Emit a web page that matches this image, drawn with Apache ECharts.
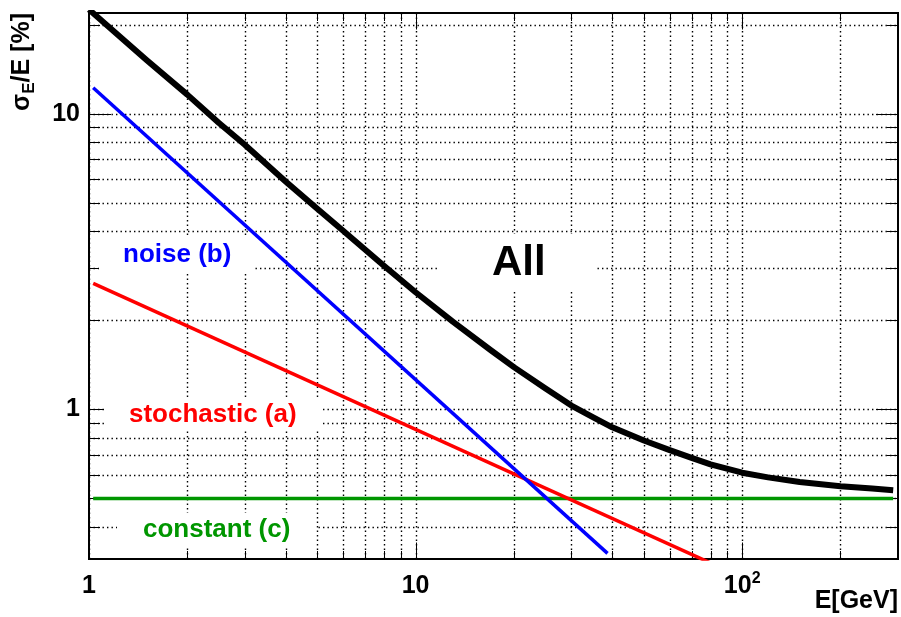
<!DOCTYPE html>
<html><head><meta charset="utf-8">
<script src="https://cdn.jsdelivr.net/npm/echarts@6/dist/echarts.min.js"></script>
<style>html,body{margin:0;padding:0;background:#fff}#c{width:901px;height:617px}</style>
</head><body><div id="c"></div>
<script>
// ---- data ----
const energy   = [1, 1.5, 2, 2.5, 3, 4, 5, 6, 8, 10, 13, 17, 20, 25, 30, 35, 40, 50, 60, 70, 80, 100, 120, 150, 200, 250, 290];
const totalRes = [22.5, 15.2, 11.6, 9.3, 7.85, 5.9, 4.77, 4.02, 3.06, 2.49, 1.98, 1.585, 1.39, 1.176, 1.03, 0.94, 0.87, 0.785, 0.728, 0.686, 0.652, 0.611, 0.589, 0.568, 0.55, 0.54, 0.533];
const noiseE   = [1.03, 38.7];
const noiseRes = [12.24, 0.326];
const stochE   = [1.03, 80];
const stochRes = [2.666, 0.3025];
const constE   = [1.03, 290];
const constRes = [0.5, 0.5];
const xRange = [1, 300];
const yRange = [0.312, 21.9];
const xMajorTicks = [1, 10, 100];
const xMinorTicks = [2, 3, 4, 5, 6, 7, 8, 9, 20, 30, 40, 50, 60, 70, 80, 90, 200];
const yMajorTicks = [1, 10];
const yMinorTicks = [0.4, 0.5, 0.6, 0.7, 0.8, 0.9, 2, 3, 4, 5, 6, 7, 8, 9, 20];

const FONT = 'Liberation Sans, Arial, Helvetica, sans-serif';
const X_MAJ = 16.5, X_MIN = 8, Y_MAJ = 22, Y_MIN = 11;
const crisp = v => Math.round(v) + 0.5;
const dotted = { stroke: '#000', lineWidth: 1.4, lineDash: [1.4, 3.1] };
const solid = { stroke: '#000', lineWidth: 1 };

function xTick(len) {
  return function (params, api) {
    const v = api.value(0);
    const b = api.coord([v, yRange[0]]);
    const t = api.coord([v, yRange[1]]);
    const x = crisp(b[0]);
    return { type: 'group', children: [
      { type: 'line', shape: { x1: x, y1: b[1], x2: x, y2: t[1] }, style: dotted },
      { type: 'line', shape: { x1: x, y1: b[1], x2: x, y2: b[1] - len }, style: solid },
      { type: 'line', shape: { x1: x, y1: t[1], x2: x, y2: t[1] + len }, style: solid }
    ]};
  };
}
function yTick(len) {
  return function (params, api) {
    const v = api.value(1);
    const l = api.coord([xRange[0], v]);
    const r = api.coord([xRange[1], v]);
    const y = crisp(l[1]);
    return { type: 'group', children: [
      { type: 'line', shape: { x1: l[0], y1: y, x2: r[0], y2: y }, style: dotted },
      { type: 'line', shape: { x1: l[0], y1: y, x2: l[0] + len, y2: y }, style: solid },
      { type: 'line', shape: { x1: r[0], y1: y, x2: r[0] - len, y2: y }, style: solid }
    ]};
  };
}
const isPow10 = v => Math.abs(Math.log10(v) - Math.round(Math.log10(v))) < 1e-6;
function powLabel(v) {
  if (!isPow10(v)) return '';
  const e = Math.round(Math.log10(v));
  if (e <= 1) return '{b|' + Math.round(v) + '}';
  return '{b|10}{s|' + e + '}';
}

const chart = echarts.init(document.getElementById('c'), null, { renderer: 'canvas' });
const pair = (xs, ys) => xs.map((x, i) => [x, ys[i]]);

chart.setOption({
  animation: false,
  backgroundColor: '#fff',
  grid: { left: 89, top: 13, width: 809, height: 546, show: true, borderColor: '#000', borderWidth: 2, backgroundColor: 'transparent' },
  xAxis: {
    type: 'log', logBase: 10, min: xRange[0], max: xRange[1],
    axisLine: { show: false }, axisTick: { show: false }, splitLine: { show: false }, minorTick: { show: false },
    axisLabel: {
      showMinLabel: true, showMaxLabel: false, margin: 12, color: '#000',
      formatter: powLabel,
      rich: {
        b: { fontSize: 25, fontWeight: 'bold', fontFamily: FONT, color: '#000', lineHeight: 30 },
        s: { fontSize: 16, fontWeight: 'bold', fontFamily: FONT, color: '#000', lineHeight: 16, verticalAlign: 'top' }
      }
    }
  },
  yAxis: {
    type: 'log', logBase: 10, min: yRange[0], max: yRange[1],
    axisLine: { show: false }, axisTick: { show: false }, splitLine: { show: false }, minorTick: { show: false },
    axisLabel: {
      showMinLabel: false, showMaxLabel: false, margin: 9, color: '#000',
      formatter: powLabel,
      rich: { b: { fontSize: 25, fontWeight: 'bold', fontFamily: FONT, color: '#000' } }
    }
  },
  graphic: [
    { type: 'rect', z: 5, shape: { x: 99, y: 237, width: 156, height: 36 }, style: { fill: '#fff' } },
    { type: 'rect', z: 5, shape: { x: 440, y: 234, width: 157, height: 56 }, style: { fill: '#fff' } },
    { type: 'rect', z: 5, shape: { x: 104, y: 400, width: 218, height: 30 }, style: { fill: '#fff' } },
    { type: 'rect', z: 5, shape: { x: 117, y: 513, width: 199, height: 35 }, style: { fill: '#fff' } },
    { type: 'text', z: 6, x: 123, y: 255, style: { text: 'noise (b)', fontSize: 26, fontWeight: 'bold', fontFamily: FONT, fill: '#0000ff', align: 'left', verticalAlign: 'middle' } },
    { type: 'text', z: 6, x: 492, y: 263, style: { text: 'All', fontSize: 42, fontWeight: 'bold', fontFamily: FONT, fill: '#000', align: 'left', verticalAlign: 'middle' } },
    { type: 'text', z: 6, x: 129, y: 415, style: { text: 'stochastic (a)', fontSize: 26, fontWeight: 'bold', fontFamily: FONT, fill: '#ff0000', align: 'left', verticalAlign: 'middle' } },
    { type: 'text', z: 6, x: 143, y: 530, style: { text: 'constant (c)', fontSize: 26, fontWeight: 'bold', fontFamily: FONT, fill: '#009600', align: 'left', verticalAlign: 'middle' } },
    { type: 'text', z: 6, x: 898, y: 601, style: { text: 'E[GeV]', fontSize: 25, fontWeight: 'bold', fontFamily: FONT, fill: '#000', align: 'right', verticalAlign: 'middle' } },
    { type: 'text', z: 6, x: 22, y: 13, rotation: Math.PI / 2, style: {
        text: '{a|σ}{s|E}{a|/E [%]}', align: 'right', verticalAlign: 'middle', fill: '#000',
        rich: {
          a: { fontSize: 25, fontWeight: 'bold', fontFamily: FONT, fill: '#000', lineHeight: 32 },
          s: { fontSize: 17, fontWeight: 'bold', fontFamily: FONT, fill: '#000', lineHeight: 17, verticalAlign: 'bottom' }
        } } }
  ],
  series: [
    { type: 'custom', z: 1, silent: true, renderItem: xTick(X_MAJ), data: xMajorTicks.map(v => [v, yRange[0]]) },
    { type: 'custom', z: 1, silent: true, renderItem: xTick(X_MIN), data: xMinorTicks.map(v => [v, yRange[0]]) },
    { type: 'custom', z: 1, silent: true, renderItem: yTick(Y_MAJ), data: yMajorTicks.map(v => [xRange[0], v]) },
    { type: 'custom', z: 1, silent: true, renderItem: yTick(Y_MIN), data: yMinorTicks.map(v => [xRange[0], v]) },
    { name: 'constant (c)', type: 'line', z: 10, clip: true, showSymbol: false, symbol: 'none', data: pair(constE, constRes), lineStyle: { color: '#009600', width: 3.5 } },
    { name: 'stochastic (a)', type: 'line', z: 10, clip: true, showSymbol: false, symbol: 'none', data: pair(stochE, stochRes), lineStyle: { color: '#ff0000', width: 3.5 } },
    { name: 'noise (b)', type: 'line', z: 10, clip: true, showSymbol: false, symbol: 'none', data: pair(noiseE, noiseRes), lineStyle: { color: '#0000ff', width: 3.5 } },
    { name: 'All', type: 'line', z: 11, clip: true, showSymbol: false, symbol: 'none', data: pair(energy, totalRes), lineStyle: { color: '#000', width: 6, join: 'round' } }
  ]
});
</script></body></html>
